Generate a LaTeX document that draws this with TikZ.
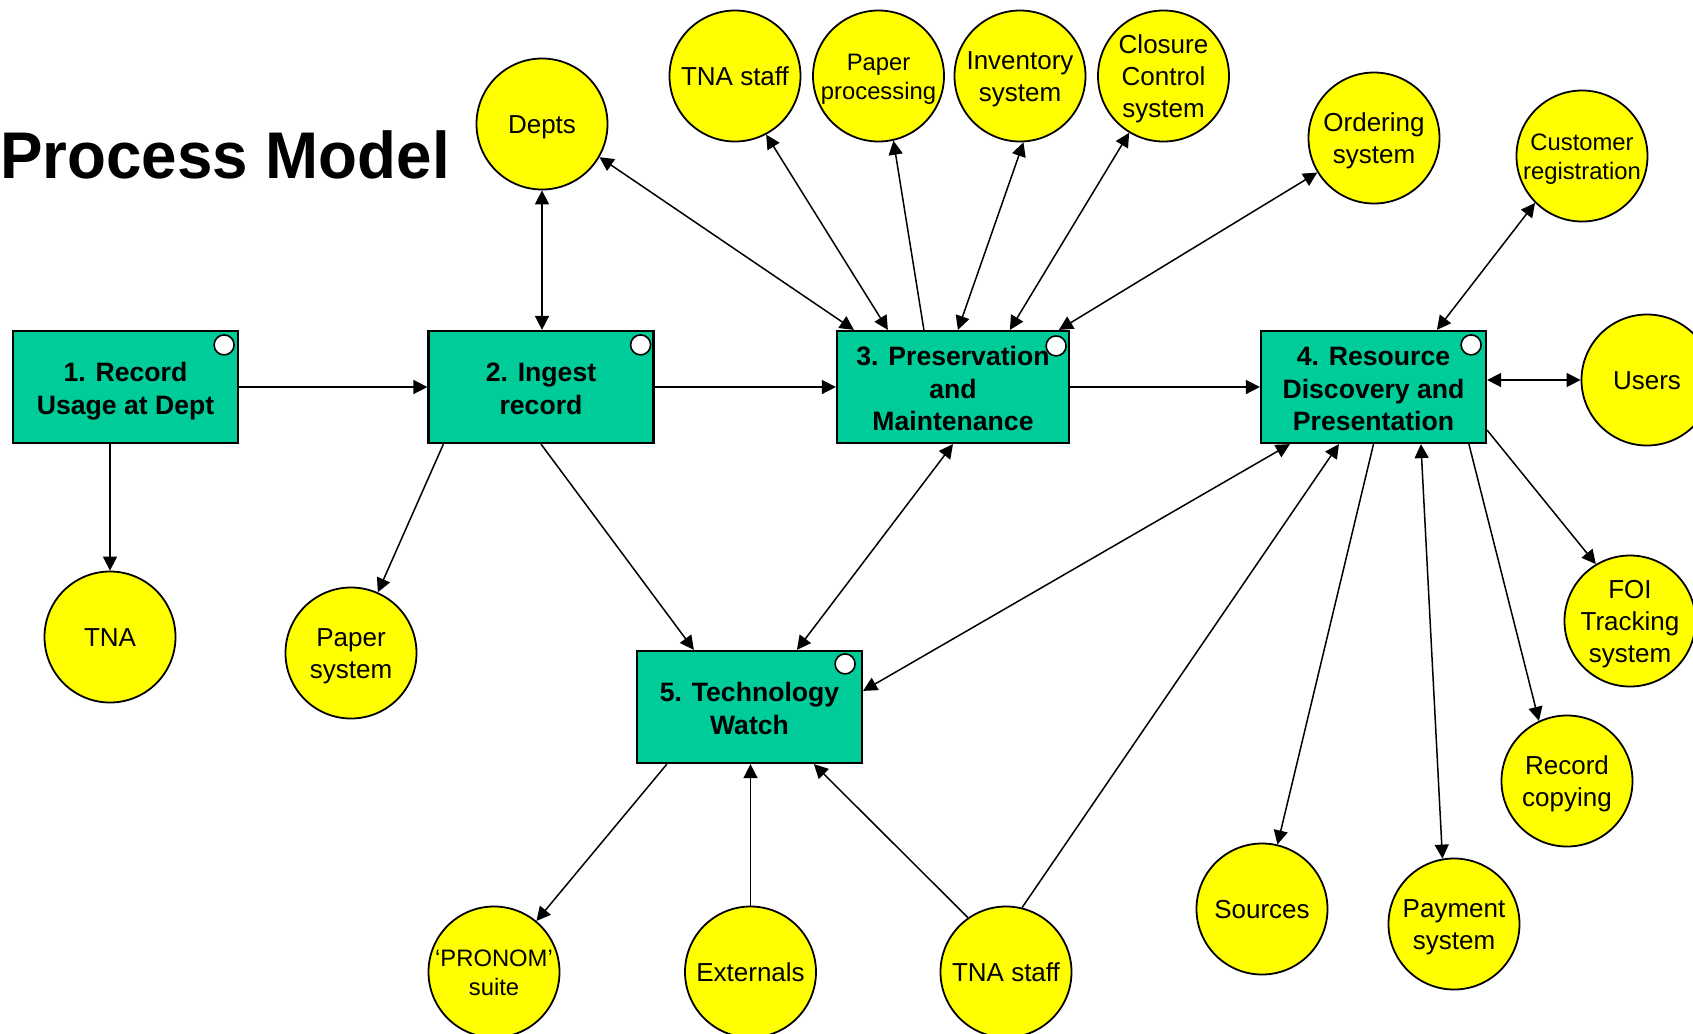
\documentclass[tikz,border=0pt]{standalone}
\usepackage{fontspec}
\setmainfont{Liberation Sans}
\usetikzlibrary{arrows.meta,calc}
\definecolor{boxgreen}{RGB}{0,204,153}
\definecolor{circyellow}{RGB}{255,255,0}
% struts fixing the vertical position of the text inside the shapes
\newcommand\proctxt[1]{\rule{0pt}{14.6pt}#1\rule[-3.5pt]{0pt}{3.5pt}}
\newcommand\actortxt[1]{\rule{0pt}{12.7pt}#1\rule[-3pt]{0pt}{3pt}}
\newcommand\actorsmtxt[1]{\rule{0pt}{11.8pt}#1\rule[-3pt]{0pt}{3pt}}
\begin{document}
\begin{tikzpicture}[x=0.5pt,y=-0.5pt,
  proc/.style={draw=black, line width=1.1pt, fill=boxgreen, minimum width=112.5pt, minimum height=56pt, inner sep=0pt, align=center, font=\bfseries\fontsize{13.3}{16.2}\selectfont},
  actor/.style={circle, draw=black, line width=0.9pt, fill=circyellow, minimum size=65.5pt, inner sep=-5pt, align=center, font=\fontsize{13}{16}\selectfont},
  actorsm/.style={actor, font=\fontsize{11.9}{14.6}\selectfont},
  cornerdot/.style={circle, draw=black, fill=white, minimum size=10pt, inner sep=0pt, line width=0.8pt},
  lnk/.style={line width=0.75pt, -{Triangle[length=7pt,width=7pt]}},
  lnkb/.style={line width=0.75pt, {Triangle[length=7pt,width=7pt]}-{Triangle[length=7pt,width=7pt]}}
]
\useasboundingbox (0,0) rectangle (1693,1034);
\clip (0,0) rectangle (1693,1034);

% title
\node[anchor=base west, inner sep=0pt, font=\bfseries\fontsize{33}{38}\selectfont] (title) at (0,178) {\scalebox{0.965}[1]{Process Model}};

% process boxes
\node[proc] (b1) at (125.5,387) {\proctxt{1. Record\\Usage at Dept}};
\node[proc] (b2) at (541,387) {\proctxt{2. Ingest\\record}};
\node[proc, minimum width=116pt] (b3) at (953,387) {\proctxt{3. Preservation\\and\\Maintenance}};
\node[proc] (b4) at (1373.5,387) {\proctxt{4. Resource\\Discovery and\\Presentation}};
\node[proc] (b5) at (749.5,707) {\proctxt{5. Technology\\Watch}};

\node[cornerdot] (d1) at ($(b1.north east)+(-15,15)$) {};
\node[cornerdot] (d2) at ($(b2.north east)+(-14,15)$) {};
\node[cornerdot] (d3) at ($(b3.north east)+(-14,16)$) {};
\node[cornerdot] (d4) at ($(b4.north east)+(-16,15)$) {};
\node[cornerdot] (d5) at ($(b5.north east)+(-18,14)$) {};

% actors
\node[actor] (depts) at (542,124) {\actortxt{Depts}};
\node[actor] (tnastaff1) at (735,76) {\actortxt{TNA staff}};
\node[actorsm] (paperproc) at (878.5,76) {\actorsmtxt{Paper\\processing}};
\node[actor] (inventory) at (1020,76) {\actortxt{Inventory\\system}};
\node[actor] (closure) at (1163.5,76) {\actortxt{Closure\\Control\\system}};
\node[actor] (ordering) at (1374,138) {\actortxt{Ordering\\system}};
\node[actorsm] (custreg) at (1582,156) {\actorsmtxt{Customer\\registration}};
\node[actor] (users) at (1647,380) {\actortxt{Users}};
\node[actor] (foi) at (1630,621) {\actortxt{FOI\\Tracking\\system}};
\node[actor] (reccopy) at (1567,781) {\actortxt{Record\\copying}};
\node[actor] (payment) at (1454,924) {\actortxt{Payment\\system}};
\node[actor] (sources) at (1262,909) {\actortxt{Sources}};
\node[actor] (tnastaff2) at (1006,972) {\actortxt{TNA staff}};
\node[actor] (externals) at (750.5,972) {\actortxt{Externals}};
\node[actorsm] (pronom) at (494,972) {\actorsmtxt{‘PRONOM’\\suite}};
\node[actor] (tna) at (110,637) {\actortxt{TNA}};
\node[actor] (papersys) at (351,653) {\actortxt{Paper\\system}};

% main flow
\draw[lnk] (b1.east) -- (b2.west);
\draw[lnk] (b2.east) -- (b3.west);
\draw[lnk] (b3.east) -- (b4.west);

% box 1
\draw[lnk] (b1.south -| tna.north) -- (tna.north);

% box 2
\draw[lnk] ($(b2.south west)+(16,0)$) -- (papersys);
\draw[lnk] (b2.south) -- ($(b5.north west)+(58,0)$);
\draw[lnkb] (depts.south) -- (depts.south |- b2.north);

% box 3
\draw[lnkb] (depts.-30) -- ($(b3.north west)+(18,0)$);
\draw[lnkb] (tnastaff1.-62) -- ($(b3.north west)+(52,0)$);
\draw[lnk] ($(b3.north west)+(88,0)$) -- (paperproc.-77);
\draw[lnkb] (inventory.-87) -- ($(b3.north west)+(122,0)$);
\draw[lnkb] (closure) -- ($(b3.north west)+(174,0)$);
\draw[lnkb] (ordering) -- ($(b3.north west)+(223,0)$);
\draw[lnkb] (b3.south) -- ($(b5.north west)+(161,0)$);

% box 4
\draw[lnkb] ($(b4.south west)+(30,0)$) -- ($(b5.north east)+(0,41)$);
\draw[lnk] (tnastaff2.76) -- ($(b4.south west)+(79,0)$);
\draw[lnk] (b4.south) -- (sources);
\draw[lnkb] ($(b4.south west)+(161,0)$) -- (payment.100);
\draw[lnk] ($(b4.south west)+(209,0)$) -- (reccopy.115);
\draw[lnk] ($(b4.south east)+(0,-14)$) -- (foi.121);
\draw[lnkb] (b4.east |- users.west) -- (users.west);
\draw[lnkb] ($(b4.north west)+(177,0)$) -- (custreg.225);

% box 5
\draw[lnk] (tnastaff2.125) -- ($(b5.south west)+(178,0)$);
\draw[lnk] (externals.north) -- (externals.north |- b5.south);
\draw[lnk] ($(b5.south west)+(31,0)$) -- (pronom);
\end{tikzpicture}
\end{document}
